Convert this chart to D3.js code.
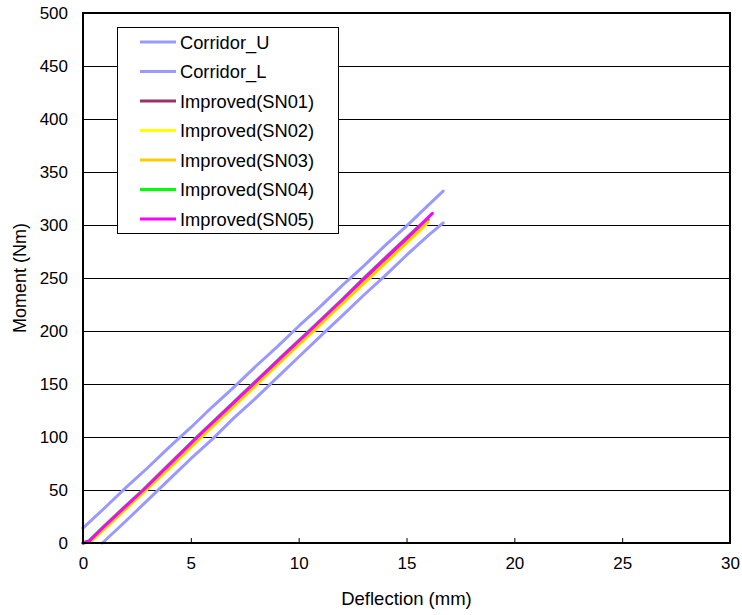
<!DOCTYPE html>
<html>
<head>
<meta charset="utf-8">
<script src="https://cdn.jsdelivr.net/npm/d3@7"></script>
<style>
  html, body { margin: 0; padding: 0; background: #fff; }
  svg { display: block; font-family: "Liberation Sans", Arial, sans-serif; }
</style>
</head>
<body>
<svg id="chart" width="742" height="615"></svg>
<script>
// ---- data ----
const seriesNames = ["Corridor_U", "Corridor_L", "Improved(SN01)", "Improved(SN02)", "Improved(SN03)", "Improved(SN04)", "Improved(SN05)"];
const seriesColors = ["#9999FF", "#9999FF", "#993366", "#FFFF00", "#FFCC00", "#00FF00", "#FF00FF"];

const corridorU = [[0,14],[1,33],[2,52.5],[3,71],[4,90.5],[5,109],[6,128.5],[7,147],[8,166.5],[9,185],[10,204.5],[11,223],[12,242.5],[13,261],[14,280.5],[15,299],[16,318.5],[16.7,332]];
const corridorL = [[0.9,0],[2,21],[3,40.5],[4,60],[5,79.5],[6,98],[7,118],[8,136.5],[9,156],[10,175.5],[11,195],[12,214],[13,233.5],[14,252],[15,271.5],[16,290],[16.7,302]];
const sn01 = [[0,0],[0.3,2],[1,15],[2,34],[2.85,50],[4,72],[5.35,99],[6.5,121],[8,150],[9.5,179],[10.55,199],[12,227],[13.1,248],[14.5,275],[15.5,294],[16.0,305]];
const sn02 = [[0.08,0],[0.4,2],[1.1,15],[2.1,34],[2.95,50],[4.1,72],[5.45,99],[6.6,121],[8.1,150],[9.6,179],[10.65,199],[12.1,227],[13.2,248],[14.6,275],[15.5,292],[15.9,300]];
const sn03 = [[0.05,0],[0.37,2],[1.07,15],[2.07,34],[2.92,50],[4.07,72],[5.42,99],[6.57,121],[8.07,150],[9.57,179],[10.62,199],[12.07,227],[13.17,248],[14.57,275],[15.55,294],[16.0,303]];
const sn04 = [[0,0],[0.27,2],[0.97,16],[1.97,35],[2.77,50],[3.97,74],[5.27,100],[6.47,123],[7.97,152],[9.47,181],[10.47,200],[11.97,229],[13.02,250],[14.47,278],[15.47,297],[15.95,305]];
const sn05 = [[0,0],[0.3,2],[1,16],[2,35],[2.8,50],[4,74],[5.3,100],[6.5,123],[8,152],[9.5,181],[10.5,200],[12,229],[13.05,250],[14.5,278],[15.5,297],[16.2,311]];
const seriesData = [corridorU, corridorL, sn01, sn02, sn03, sn04, sn05];

const xTicks = [0, 5, 10, 15, 20, 25, 30];
const yTicks = [0, 50, 100, 150, 200, 250, 300, 350, 400, 450, 500];
const xTitle = "Deflection (mm)";
const yTitle = "Moment (Nm)";

// ---- layout ----
const svg = d3.select("#chart");
const L = 83, R = 730, T = 13, B = 543;
const x = d3.scaleLinear().domain([0, 30]).range([L, R]);
const y = d3.scaleLinear().domain([0, 500]).range([B, T]);

// gridlines
svg.append("g").selectAll("line").data(yTicks.filter(v => v > 0 && v < 500)).join("line")
  .attr("x1", L).attr("x2", R)
  .attr("y1", d => Math.round(y(d)) + 0.5).attr("y2", d => Math.round(y(d)) + 0.5)
  .attr("stroke", "#000").attr("stroke-width", 1);

// x axis ticks (inward)
const xAxis = d3.axisBottom(x).tickValues(xTicks).tickSizeInner(-5).tickSizeOuter(0).tickPadding(14);
const gx = svg.append("g").attr("transform", `translate(0,${B})`).call(xAxis);
gx.select(".domain").remove();
gx.selectAll("line").attr("stroke", "#000");
gx.selectAll("text").attr("font-size", 17).attr("fill", "#000").attr("font-family", "Liberation Sans, Arial, sans-serif");

const yAxis = d3.axisLeft(y).tickValues(yTicks).tickSize(0).tickPadding(15);
const gy = svg.append("g").attr("transform", `translate(${L},0)`).call(yAxis);
gy.select(".domain").remove();
gy.selectAll("text").attr("font-size", 17).attr("fill", "#000").attr("font-family", "Liberation Sans, Arial, sans-serif");

// series lines
const line = d3.line().x(d => x(d[0])).y(d => y(d[1]));
svg.append("g").selectAll("path").data(seriesData).join("path")
  .attr("d", line)
  .attr("fill", "none")
  .attr("stroke", (d, i) => seriesColors[i])
  .attr("stroke-width", 3)
  .attr("stroke-linejoin", "round")
  .attr("stroke-linecap", "round");

// frame
svg.append("rect").attr("x", L).attr("y", T).attr("width", R - L).attr("height", B - T)
  .attr("fill", "none").attr("stroke", "#000").attr("stroke-width", 2);

// axis titles
svg.append("text").attr("x", (L + R) / 2).attr("y", 605).attr("text-anchor", "middle")
  .attr("font-size", 18.5).text(xTitle);
svg.append("text").attr("transform", `translate(26,${(T + B) / 2}) rotate(-90)`).attr("text-anchor", "middle")
  .attr("font-size", 18).text(yTitle);

// legend
const lg = svg.append("g");
lg.append("rect").attr("x", 117.5).attr("y", 27.5).attr("width", 221).attr("height", 206)
  .attr("fill", "#fff").attr("stroke", "#000").attr("stroke-width", 1);
const rowY = i => 42 + i * 29.5;
const items = lg.selectAll("g.item").data(seriesNames).join("g").attr("class", "item");
items.append("line").attr("x1", 140).attr("x2", 176)
  .attr("y1", (d, i) => rowY(i)).attr("y2", (d, i) => rowY(i))
  .attr("stroke", (d, i) => seriesColors[i]).attr("stroke-width", 3);
items.append("text").attr("x", 180).attr("y", (d, i) => rowY(i) + 6.5)
  .attr("font-size", 18.3).attr("fill", "#000").text(d => d);
</script>
</body>
</html>
